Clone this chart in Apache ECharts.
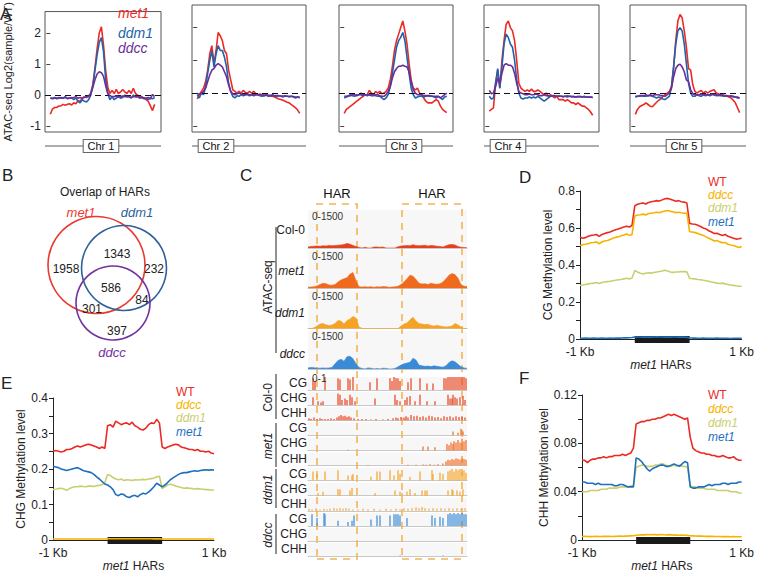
<!DOCTYPE html>
<html><head><meta charset="utf-8">
<script src="https://cdn.jsdelivr.net/npm/echarts@6/dist/echarts.min.js"></script>
<style>html,body{margin:0;padding:0;background:#fff}#c{width:757px;height:573px}</style>
</head><body><div id="c"></div>
<script>
// ---------------- DATA ----------------
// Panel A: ATAC-seq log2(sample/WT) profiles around HARs, per chromosome
const atacSamples = ['met1', 'ddm1', 'ddcc'];
const chrNames = ['Chr 1', 'Chr 2', 'Chr 3', 'Chr 4', 'Chr 5'];
const atacTicks = [-1, 0, 1, 2];
const a1_met1 = [-0.62,-0.45,-0.40,-0.40,-0.35,-0.35,-0.30,-0.33,-0.30,-0.28,-0.32,-0.25,-0.28,-0.18,-0.20,-0.10,-0.05,-0.08,-0.02,0.05,0.35,0.90,1.50,2.00,2.20,1.60,0.80,0.25,0.05,0.15,0.05,0.18,0.05,0.10,0.18,0.10,0.05,0.15,0.05,0.22,0.05,0.00,-0.05,-0.05,-0.10,-0.15,-0.20,-0.35,-0.50,-0.30];
const a1_ddm1 = [-0.10,-0.10,-0.08,-0.12,-0.10,-0.08,-0.10,-0.05,-0.12,-0.10,-0.08,-0.15,-0.10,-0.20,-0.25,-0.15,-0.20,-0.22,-0.15,0.00,0.30,0.80,1.30,1.70,1.85,1.40,0.50,0.05,-0.15,-0.05,-0.15,-0.10,-0.05,-0.10,-0.08,0.00,-0.05,-0.05,-0.10,0.00,-0.05,-0.05,-0.10,-0.08,-0.12,-0.10,-0.15,-0.10,-0.12,-0.08];
const a1_ddcc = [-0.10,-0.12,-0.10,-0.10,-0.08,-0.10,-0.10,-0.08,-0.10,-0.10,-0.10,-0.08,-0.05,-0.10,-0.08,-0.10,-0.08,-0.05,-0.05,0.05,0.25,0.50,0.68,0.75,0.72,0.60,0.30,0.05,-0.02,-0.05,-0.05,-0.03,-0.05,-0.05,-0.03,-0.05,-0.05,-0.05,-0.08,-0.05,-0.05,-0.05,-0.08,-0.08,-0.10,-0.10,-0.08,-0.12,0.02,-0.05];
const a2_met1 = [-0.18,-0.05,0.05,0.15,0.35,0.70,1.20,1.45,0.90,1.30,1.85,1.75,1.60,1.30,1.20,0.70,0.40,0.10,0.05,0.00,0.05,0.00,0.08,0.02,0.00,0.05,0.00,0.05,-0.02,-0.05,-0.03,-0.05,-0.08,-0.05,-0.08,-0.10,-0.10,-0.12,-0.15,-0.18,-0.20,-0.22,-0.25,-0.28,-0.30,-0.35,-0.40,-0.45,-0.52,-0.62];
const a2_ddm1 = [-0.05,-0.15,0.00,-0.05,0.20,0.60,1.00,1.30,0.80,1.20,1.45,1.30,1.30,1.10,0.80,0.30,0.05,-0.10,-0.15,-0.08,-0.10,-0.05,-0.08,-0.05,-0.05,-0.08,-0.05,-0.08,-0.05,-0.05,-0.08,-0.10,-0.08,-0.05,-0.10,-0.08,-0.05,-0.10,-0.10,-0.08,-0.10,-0.12,-0.08,-0.10,-0.12,-0.10,-0.12,-0.15,-0.12,-0.15];
const a2_ddcc = [0.00,-0.05,0.00,0.05,0.15,0.35,0.55,0.70,0.75,0.85,0.90,0.85,0.80,0.65,0.50,0.25,0.05,-0.02,-0.05,-0.02,0.00,-0.03,-0.05,-0.05,-0.03,-0.05,-0.05,-0.05,-0.05,-0.05,-0.06,-0.06,-0.06,-0.07,-0.07,-0.07,-0.08,-0.08,-0.08,-0.08,-0.09,-0.09,-0.10,-0.10,-0.10,-0.10,-0.11,-0.12,-0.12,-0.12];
const a3_met1 = [-0.62,-0.50,-0.45,-0.40,-0.35,-0.30,-0.25,-0.20,-0.15,-0.10,-0.05,-0.05,0.08,0.00,-0.05,0.05,0.00,0.05,-0.02,0.00,0.05,0.15,0.40,0.80,1.30,1.60,1.80,2.00,2.20,1.90,1.50,0.90,0.40,0.15,0.10,0.15,0.00,-0.05,-0.15,-0.25,-0.30,-0.30,-0.30,-0.25,-0.20,-0.25,-0.40,-0.50,-0.55,-0.60];
const a3_ddm1 = [-0.15,-0.12,-0.10,-0.05,-0.08,-0.10,-0.05,-0.05,0.00,-0.05,-0.05,-0.08,-0.05,-0.05,-0.05,-0.08,-0.10,-0.10,-0.15,-0.20,-0.15,-0.05,0.20,0.60,1.00,1.40,1.60,1.70,1.85,1.60,1.10,0.60,0.15,-0.05,-0.15,-0.12,-0.10,-0.10,-0.12,-0.10,-0.08,-0.10,-0.10,-0.12,-0.15,-0.10,-0.15,-0.20,-0.12,-0.10];
const a3_ddcc = [-0.10,-0.10,-0.08,-0.08,-0.05,-0.05,-0.08,-0.05,-0.05,-0.08,-0.05,-0.05,-0.05,-0.08,-0.08,-0.05,-0.05,-0.08,-0.10,-0.10,-0.05,0.05,0.20,0.45,0.65,0.75,0.82,0.82,0.85,0.82,0.80,0.65,0.35,0.10,0.00,-0.05,-0.05,-0.05,-0.08,-0.08,-0.08,-0.08,-0.10,-0.10,-0.10,-0.10,-0.15,-0.10,-0.05,0.00];
const a4_met1 = [-0.55,-0.50,-0.45,0.30,0.70,0.15,1.00,1.60,2.10,2.20,2.00,1.90,1.60,1.00,0.30,0.15,0.10,0.05,0.10,0.05,0.12,0.05,0.05,0.10,0.05,0.00,-0.05,0.00,-0.10,-0.05,-0.10,-0.15,-0.10,-0.20,-0.20,-0.20,-0.25,-0.20,-0.25,-0.30,-0.30,-0.35,-0.30,-0.35,-0.40,-0.40,-0.45,-0.50,-0.58,-0.68];
const a4_ddm1 = [-0.10,-0.18,-0.15,0.30,0.75,0.15,0.80,1.50,1.80,1.70,1.50,1.40,1.00,0.40,0.00,-0.15,-0.18,-0.15,-0.15,-0.12,-0.15,-0.12,-0.15,-0.10,-0.15,-0.20,-0.25,-0.20,-0.15,-0.10,-0.10,-0.08,-0.10,-0.08,-0.10,-0.12,-0.10,-0.08,-0.10,-0.12,-0.10,-0.12,-0.10,-0.12,-0.12,-0.10,-0.12,-0.12,-0.12,-0.13];
const a4_ddcc = [0.08,-0.02,0.00,0.20,0.45,0.30,0.60,0.85,0.90,0.85,0.85,0.80,0.60,0.30,0.05,0.00,-0.02,-0.05,-0.05,-0.03,-0.05,-0.05,-0.03,-0.05,-0.08,-0.08,-0.05,-0.08,-0.08,-0.10,-0.08,-0.08,-0.10,-0.10,-0.10,-0.10,-0.10,-0.12,-0.10,-0.10,-0.12,-0.12,-0.12,-0.10,-0.12,-0.12,-0.12,-0.13,-0.12,-0.14];
const a5_met1 = [-0.65,-0.50,-0.42,-0.38,-0.35,-0.30,-0.35,-0.40,-0.42,-0.35,-0.28,-0.22,-0.18,-0.10,-0.05,0.00,0.05,0.20,0.80,1.60,2.20,2.40,2.30,1.90,1.40,0.75,0.70,0.25,0.05,0.00,0.05,0.08,0.00,0.05,0.00,0.05,0.08,0.10,0.00,-0.02,-0.05,-0.05,-0.08,-0.10,-0.12,-0.15,-0.22,-0.30,-0.45,-0.60];
const a5_ddm1 = [-0.13,-0.10,-0.10,-0.08,-0.10,-0.10,-0.08,-0.05,-0.10,-0.12,-0.15,-0.12,-0.15,-0.18,-0.20,-0.15,-0.10,0.20,0.80,1.50,1.90,2.00,1.90,1.50,0.90,0.30,0.00,-0.10,-0.10,-0.05,-0.08,-0.10,-0.05,-0.08,-0.05,-0.08,-0.05,-0.05,-0.08,-0.05,-0.08,-0.08,-0.10,-0.08,-0.10,-0.10,-0.12,-0.12,-0.15,-0.15];
const a5_ddcc = [-0.10,-0.10,-0.08,-0.08,-0.08,-0.05,-0.08,-0.08,-0.08,-0.05,-0.05,-0.05,-0.08,-0.08,-0.10,-0.05,0.00,0.15,0.50,0.75,0.85,0.88,0.80,0.65,0.40,0.35,0.10,-0.02,-0.05,-0.05,-0.05,-0.03,-0.05,-0.05,-0.05,-0.05,-0.03,-0.05,-0.05,-0.08,-0.05,-0.08,-0.08,-0.08,-0.10,-0.08,-0.10,-0.12,-0.12,-0.15];

// Panel B: Venn of HARs
const vennSets = ['met1', 'ddm1', 'ddcc'];
const vennRegions = ['met1 only', 'met1&ddm1', 'ddm1 only', 'all three', 'ddm1&ddcc', 'met1&ddcc', 'ddcc only'];
const vennCounts = [1958, 1343, 232, 586, 84, 301, 397];

// Panel C: genome browser tracks
const atacTrackNames = ['Col-0', 'met1', 'ddm1', 'ddcc'];
const atacRange = '0-1500';
const c_atac_col0 = [40,60,70,80,70,90,80,100,90,100,110,120,140,180,150,100,60,20,0,30,0,0,40,40,30,40,0,0,0,0,50,80,90,100,90,130,100,90,100,110,80,100,90,70,60,40,90,130,140,120,60,30,20,10];
const c_atac_met1 = [40,50,60,90,150,200,180,130,120,150,250,330,380,420,560,620,300,60,50,60,50,60,40,60,50,70,60,40,50,60,80,150,250,380,520,480,350,200,170,180,150,200,170,160,180,250,380,520,580,540,400,150,80,70];
const c_atac_ddm1 = [0,0,30,100,180,200,150,120,140,200,320,300,180,320,380,480,420,60,10,0,0,0,0,0,10,0,0,0,0,0,0,100,180,220,350,450,300,200,180,160,170,120,100,130,100,80,60,80,100,200,150,60,0,0];
const c_atac_ddcc = [40,60,50,30,30,40,30,40,60,200,330,380,300,480,500,400,200,60,20,0,40,30,0,20,0,30,20,0,0,20,80,150,200,230,260,420,350,150,120,100,110,90,120,100,80,70,120,250,320,280,180,80,40,20];
const harBounds = [[9, 49], [94, 154]];
const methylGroups = ['Col-0', 'met1', 'ddm1', 'ddcc'];
const methylContexts = ['CG', 'CHG', 'CHH'];
const methylRange = '0-1';
const m_col0_cg = [[5,0.9],[7,0.7],[17,1],[30,0.9],[32,0.8],[40,0.9],[42,0.8],[45,1],[62,0.6],[69,0.9],[82,0.9],[84,0.7],[86,1],[88,0.9],[90,0.9],[92,0.7],[100,0.6],[103,0.9],[112,0.9],[119,0.5],[125,0.5],[136,0.9],[138,0.9],[140,1],[142,1],[144,1],[146,1],[148,1],[150,1],[152,1],[154,1],[156,1],[158,0.9]];
const m_col0_chg = [[5,0.6],[10,0.3],[13,0.2],[15,0.3],[30,0.9],[32,0.8],[34,0.4],[37,0.5],[39,0.4],[42,0.8],[44,0.6],[47,0.3],[67,0.5],[87,0.8],[89,0.4],[92,0.3],[97,0.4],[99,0.6],[102,0.7],[107,0.3],[112,0.8],[119,0.3],[127,0.3],[140,0.8],[142,0.5],[144,0.5],[145,0.8],[147,0.6],[149,0.5],[152,0.6],[155,0.7],[157,0.4]];
const m_col0_chh = [[1,0.15],[3,0.1],[6,0.2],[9,0.1],[12,0.15],[14,0.1],[17,0.1],[20,0.1],[23,0.15],[26,0.1],[29,0.2],[31,0.3],[33,0.4],[35,0.3],[37,0.35],[39,0.25],[41,0.3],[43,0.2],[46,0.15],[50,0.1],[54,0.1],[58,0.1],[63,0.05],[68,0.1],[75,0.05],[80,0.1],[85,0.15],[88,0.2],[90,0.15],[93,0.25],[96,0.2],[98,0.3],[100,0.2],[103,0.4],[106,0.3],[109,0.35],[112,0.25],[115,0.3],[118,0.2],[121,0.35],[124,0.3],[127,0.2],[130,0.25],[133,0.15],[136,0.3],[139,0.25],[142,0.3],[145,0.2],[148,0.3],[151,0.25],[154,0.3],[157,0.2]];
const m_met1_cg = [[145,0.3],[150,0.2],[153,0.5],[155,0.3]];
const m_met1_chg = [[40,0.05],[115,0.3],[120,0.3],[127,0.25],[139,0.5],[141,0.4],[143,0.6],[145,0.5],[146,0.7],[148,0.6],[150,0.8],[152,0.6],[154,0.9],[156,0.7],[158,0.8]];
const m_met1_chh = [[60,0.03],[100,0.05],[108,0.05],[115,0.08],[118,0.05],[122,0.1],[126,0.06],[130,0.1],[135,0.15],[138,0.3],[140,0.45],[142,0.4],[144,0.5],[146,0.45],[148,0.55],[150,0.5],[152,0.45],[154,0.55],[156,0.5],[158,0.45]];
const m_ddm1_cg = [[5,0.7],[9,0.5],[17,0.7],[30,0.8],[40,0.4],[44,0.4],[45,0.5],[63,0.3],[69,0.7],[72,0.7],[82,0.8],[86,0.4],[90,0.8],[92,0.5],[102,0.3],[112,0.7],[124,0.8],[125,0.5],[132,0.6],[135,0.5],[140,0.7],[142,0.8],[144,0.9],[146,0.7],[148,0.9],[150,0.8],[152,0.9],[154,0.7],[156,0.8],[158,0.6]];
const m_ddm1_chg = [[10,0.2],[15,0.3],[30,0.5],[32,0.5],[42,0.4],[44,0.6],[67,0.2],[87,0.4],[92,0.3],[94,0.2],[99,0.3],[102,0.5],[107,0.2],[114,0.4],[117,0.4],[119,0.4],[140,0.4],[144,0.5],[145,0.4],[149,0.4],[152,0.3],[155,0.5]];
const m_ddm1_chh = [[1,0.15],[4,0.1],[8,0.2],[12,0.1],[16,0.15],[19,0.1],[22,0.15],[26,0.2],[29,0.15],[32,0.2],[35,0.15],[38,0.2],[41,0.15],[45,0.1],[50,0.1],[55,0.15],[60,0.1],[66,0.15],[72,0.1],[78,0.15],[83,0.1],[88,0.15],[92,0.1],[96,0.2],[100,0.15],[104,0.2],[108,0.25],[111,0.2],[114,0.3],[117,0.2],[121,0.15],[125,0.2],[129,0.15],[133,0.2],[137,0.15],[141,0.2],[145,0.15],[149,0.2],[153,0.15],[157,0.2]];
const m_ddcc_cg = [[4,0.9],[9,0.6],[16,1],[17,0.9],[30,0.4],[40,0.3],[44,0.4],[46,0.8],[63,0.5],[69,0.8],[72,0.8],[82,0.8],[86,0.9],[88,0.9],[90,0.9],[92,0.8],[99,0.6],[124,0.8],[127,0.6],[132,0.7],[135,0.6],[140,0.9],[142,1],[144,0.9],[146,1],[148,0.9],[150,1],[152,0.9],[154,1],[156,0.9],[158,0.9]];
const m_ddcc_chg = [];
const m_ddcc_chh = [[92,0.05],[135,0.05]];

// Panels D-F: methylation profiles across met1 HARs (60 bins: 20 up, 20 HAR, 20 down)
const profileSamples = ['WT', 'ddcc', 'ddm1', 'met1'];
const profileEnds = ['-1 Kb', '1 Kb'];
const harBinRange = [20, 40];
const d_wt = [0.550,0.545,0.548,0.555,0.560,0.562,0.565,0.555,0.565,0.570,0.575,0.578,0.585,0.590,0.595,0.600,0.605,0.610,0.605,0.615,0.720,0.728,0.732,0.735,0.730,0.738,0.742,0.745,0.748,0.746,0.752,0.758,0.760,0.755,0.750,0.745,0.748,0.742,0.740,0.735,0.625,0.622,0.620,0.615,0.608,0.600,0.595,0.585,0.578,0.570,0.572,0.565,0.560,0.565,0.555,0.550,0.545,0.540,0.542,0.545];
const d_ddcc = [0.505,0.510,0.512,0.515,0.520,0.522,0.525,0.515,0.525,0.530,0.532,0.538,0.545,0.550,0.552,0.558,0.562,0.568,0.560,0.565,0.665,0.670,0.672,0.675,0.670,0.678,0.680,0.682,0.685,0.683,0.688,0.692,0.695,0.690,0.688,0.683,0.685,0.682,0.680,0.680,0.580,0.578,0.575,0.570,0.565,0.560,0.552,0.545,0.538,0.530,0.532,0.525,0.520,0.522,0.512,0.508,0.505,0.500,0.495,0.500];
const d_ddm1 = [0.290,0.292,0.295,0.298,0.300,0.302,0.305,0.300,0.305,0.308,0.310,0.312,0.315,0.318,0.320,0.322,0.325,0.328,0.325,0.330,0.370,0.362,0.355,0.352,0.355,0.358,0.356,0.360,0.362,0.365,0.368,0.372,0.368,0.362,0.360,0.362,0.363,0.365,0.364,0.363,0.328,0.326,0.325,0.322,0.320,0.318,0.315,0.312,0.308,0.305,0.302,0.300,0.302,0.298,0.295,0.292,0.290,0.288,0.285,0.285];
const d_met1 = [0.004,0.004,0.005,0.004,0.004,0.005,0.004,0.004,0.005,0.004,0.004,0.005,0.004,0.005,0.005,0.005,0.006,0.006,0.007,0.008,0.010,0.011,0.011,0.010,0.011,0.010,0.010,0.011,0.012,0.011,0.011,0.010,0.011,0.010,0.011,0.011,0.010,0.011,0.010,0.009,0.006,0.005,0.005,0.004,0.004,0.005,0.004,0.004,0.004,0.004,0.005,0.004,0.004,0.004,0.004,0.003,0.004,0.004,0.004,0.004];
const e_wt = [0.250,0.252,0.250,0.248,0.250,0.255,0.255,0.258,0.262,0.265,0.262,0.265,0.268,0.270,0.268,0.265,0.262,0.258,0.262,0.258,0.322,0.325,0.318,0.335,0.330,0.325,0.328,0.330,0.325,0.332,0.322,0.318,0.312,0.310,0.315,0.325,0.330,0.328,0.340,0.330,0.262,0.258,0.262,0.265,0.268,0.270,0.268,0.262,0.260,0.258,0.255,0.255,0.252,0.255,0.250,0.250,0.248,0.250,0.245,0.243];
const e_ddcc = [0.0030,0.0030,0.0031,0.0030,0.0030,0.0031,0.0030,0.0031,0.0030,0.0030,0.0031,0.0030,0.0031,0.0031,0.0032,0.0031,0.0032,0.0032,0.0033,0.0033,0.0036,0.0037,0.0036,0.0038,0.0037,0.0036,0.0037,0.0038,0.0037,0.0036,0.0037,0.0038,0.0036,0.0037,0.0036,0.0037,0.0036,0.0035,0.0036,0.0035,0.0032,0.0032,0.0031,0.0031,0.0030,0.0031,0.0030,0.0030,0.0031,0.0030,0.0030,0.0029,0.0030,0.0030,0.0029,0.0030,0.0029,0.0029,0.0030,0.0029];
const e_ddm1 = [0.142,0.143,0.145,0.146,0.144,0.140,0.145,0.148,0.150,0.150,0.152,0.151,0.150,0.152,0.152,0.151,0.153,0.154,0.156,0.162,0.185,0.182,0.176,0.172,0.170,0.172,0.168,0.170,0.169,0.168,0.170,0.169,0.170,0.171,0.170,0.172,0.173,0.175,0.178,0.180,0.145,0.150,0.155,0.157,0.155,0.152,0.150,0.148,0.146,0.147,0.146,0.145,0.144,0.145,0.144,0.143,0.142,0.142,0.141,0.141];
const e_met1 = [0.208,0.206,0.204,0.200,0.198,0.196,0.198,0.200,0.202,0.204,0.200,0.196,0.194,0.192,0.190,0.185,0.178,0.172,0.165,0.158,0.155,0.150,0.142,0.128,0.125,0.130,0.128,0.122,0.120,0.124,0.126,0.122,0.128,0.132,0.130,0.135,0.142,0.150,0.160,0.155,0.150,0.155,0.162,0.170,0.175,0.180,0.185,0.188,0.190,0.190,0.192,0.194,0.195,0.194,0.196,0.197,0.198,0.197,0.198,0.197];
const f_wt = [0.066,0.066,0.064,0.066,0.067,0.067,0.068,0.068,0.069,0.068,0.069,0.069,0.070,0.070,0.070,0.071,0.070,0.071,0.072,0.076,0.096,0.097,0.098,0.098,0.099,0.099,0.100,0.100,0.101,0.101,0.102,0.103,0.104,0.103,0.104,0.103,0.102,0.101,0.100,0.101,0.085,0.076,0.074,0.073,0.072,0.072,0.071,0.071,0.070,0.070,0.069,0.069,0.070,0.069,0.068,0.068,0.069,0.067,0.066,0.066];
const f_ddcc = [0.0030,0.0031,0.0030,0.0029,0.0030,0.0031,0.0030,0.0030,0.0031,0.0032,0.0031,0.0030,0.0031,0.0032,0.0033,0.0032,0.0033,0.0034,0.0035,0.0036,0.0040,0.0042,0.0044,0.0043,0.0045,0.0044,0.0046,0.0045,0.0043,0.0046,0.0044,0.0042,0.0045,0.0043,0.0041,0.0042,0.0040,0.0041,0.0040,0.0039,0.0036,0.0035,0.0034,0.0033,0.0033,0.0032,0.0031,0.0032,0.0031,0.0030,0.0030,0.0030,0.0029,0.0030,0.0029,0.0028,0.0029,0.0028,0.0028,0.0028];
const f_ddm1 = [0.040,0.040,0.040,0.041,0.041,0.041,0.041,0.042,0.042,0.042,0.043,0.043,0.043,0.043,0.044,0.044,0.044,0.044,0.045,0.045,0.060,0.061,0.062,0.062,0.061,0.061,0.061,0.062,0.062,0.063,0.063,0.062,0.061,0.061,0.062,0.061,0.062,0.061,0.061,0.060,0.045,0.044,0.044,0.043,0.043,0.043,0.042,0.042,0.042,0.042,0.041,0.041,0.041,0.041,0.041,0.040,0.040,0.040,0.039,0.039];
const f_met1 = [0.048,0.048,0.047,0.047,0.047,0.046,0.047,0.046,0.046,0.046,0.046,0.046,0.045,0.045,0.046,0.046,0.045,0.044,0.044,0.044,0.068,0.067,0.065,0.062,0.059,0.057,0.059,0.060,0.061,0.062,0.062,0.061,0.061,0.062,0.063,0.062,0.061,0.063,0.065,0.064,0.044,0.043,0.043,0.044,0.044,0.044,0.045,0.046,0.045,0.046,0.046,0.046,0.047,0.047,0.046,0.047,0.047,0.047,0.048,0.048];
const dTickLabels = [0, 0.2, 0.4, 0.6, 0.8];
const eTickLabels = [0, 0.1, 0.2, 0.3, 0.4];
const fTickLabels = [0, 0.04, 0.08, 0.12];

// ---------------- LAYOUT / STYLE ----------------
const FONT = 'Liberation Sans, Arial, Helvetica, sans-serif';
const grid = [], xAxis = [], yAxis = [], series = [], graphic = [];
function addGrid(g, xa, ya) {
  grid.push(g); const i = grid.length - 1;
  xa.gridIndex = i; ya.gridIndex = i; xAxis.push(xa); yAxis.push(ya); return i;
}
function txt(text, x, y, o) {
  o = o || {};
  graphic.push({type: 'text', x: x, y: y, rotation: o.rot || 0, z: 100, silent: true,
    style: {text: text, fill: o.color || '#222', fontSize: o.size || 12, fontFamily: FONT,
      fontStyle: o.italic ? 'italic' : 'normal', fontWeight: o.bold ? 'bold' : 'normal',
      align: o.align || 'left', verticalAlign: o.va || 'middle'}});
}
function vline(x, y1, y2, color, w) {
  graphic.push({type: 'line', silent: true, z: 100, shape: {x1: x, y1: y1, x2: x, y2: y2}, style: {stroke: color || '#222', lineWidth: w || 1}});
}

// ---- Panel A ----
const aColors = ['#ec2a24', '#2062ad', '#6b2f9a'];
const aData = [[a1_met1, a1_ddm1, a1_ddcc], [a2_met1, a2_ddm1, a2_ddcc], [a3_met1, a3_ddm1, a3_ddcc], [a4_met1, a4_ddm1, a4_ddcc], [a5_met1, a5_ddm1, a5_ddcc]];
const aLeft = [45, 192, 339, 484, 630], aWidth = [116, 114, 114, 115, 116];
const chrCenters = [101, 216, 404, 508, 684];
aData.forEach((panel, k) => {
  const gi = addGrid({left: aLeft[k], top: 5, width: aWidth[k], height: 127, show: true, borderColor: '#555', borderWidth: 1},
    {type: 'value', min: -2.5, max: 52, show: false},
    {type: 'value', min: -1.19, max: 2.69, axisLine: {show: false}, splitLine: {show: false},
     axisTick: {show: true, length: 4, customValues: atacTicks, lineStyle: {color: '#444'}},
     axisLabel: {show: k === 0, customValues: atacTicks, fontSize: 12, color: '#222', margin: 4, fontFamily: FONT},
     name: k === 0 ? 'ATAC-seq Log2(sample/WT)' : '', nameLocation: 'middle', nameGap: 32, nameRotate: 90,
     nameTextStyle: {fontSize: 11, color: '#222', fontFamily: FONT}});
  panel.forEach((arr, j) => {
    const s = {type: 'line', name: atacSamples[j], xAxisIndex: gi, yAxisIndex: gi, data: arr.map((v, i) => [i, v]),
      symbol: 'none', lineStyle: {color: aColors[j], width: 1.6}, itemStyle: {color: aColors[j]}, z: 3 + j, silent: true};
    if (j === 0) s.markLine = {silent: true, symbol: ['none', 'none'], label: {show: false},
      lineStyle: {color: '#111', width: 1, type: [6, 4]}, data: [{yAxis: 0}]};
    series.push(s);
  });
  graphic.push({type: 'line', silent: true, shape: {x1: aLeft[k], y1: 146, x2: aLeft[k] + aWidth[k], y2: 146}, style: {stroke: '#333', lineWidth: 0.8}});
  graphic.push({type: 'text', x: chrCenters[k], y: 146, silent: true, z: 100,
    style: {text: chrNames[k], fontSize: 11, fontFamily: FONT, fill: '#111', align: 'center', verticalAlign: 'middle',
      backgroundColor: '#fff', borderColor: '#333', borderWidth: 0.8, padding: [1, 4, 0, 4]}});
});
txt('met1', 118, 12.5, {color: aColors[0], italic: true, size: 14});
txt('ddm1', 118, 33, {color: aColors[1], italic: true, size: 14});
txt('ddcc', 118, 48, {color: aColors[2], italic: true, size: 14});

// ---- Panel B (Venn) ----
const vennColors = ['#ea3a30', '#2f5f9c', '#7232a0'];
const vennCircles = [[96.5, 265, 48.5], [124, 268, 42.5], [113, 303, 37]];
vennCircles.forEach((c, i) => graphic.push({type: 'circle', silent: true, z: 50, shape: {cx: c[0], cy: c[1], r: c[2]},
  style: {fill: 'none', stroke: vennColors[i], lineWidth: 1.6}}));
const vennLabelPos = [[66, 269], [117, 254], [154, 269], [111, 288], [142, 300], [92, 309], [117, 331]];
vennCounts.forEach((v, i) => txt(String(v), vennLabelPos[i][0], vennLabelPos[i][1], {align: 'center', size: 12}));
txt('Overlap of HARs', 105, 192, {align: 'center', size: 12});
txt(vennSets[0], 81, 212, {align: 'center', italic: true, color: vennColors[0], size: 13});
txt(vennSets[1], 137, 212, {align: 'center', italic: true, color: vennColors[1], size: 13});
txt(vennSets[2], 112, 352, {align: 'center', italic: true, color: vennColors[2], size: 13});

// ---- Panel C (tracks) ----
const trackColors = ['#e8401c', '#f06a1e', '#f6a325', '#3a8ad6'];
const atacData = [c_atac_col0, c_atac_met1, c_atac_ddm1, c_atac_ddcc];
const TX = 308, TW = 159;
atacData.forEach((arr, k) => {
  const top = 210 + 40.3 * k;
  const gi = addGrid({left: TX, top: top, width: TW, height: 38, show: true, backgroundColor: '#f7f7f7', borderWidth: 0},
    {type: 'value', min: 0, max: arr.length - 1, axisLine: {show: true, lineStyle: {color: '#c8c8c8', width: 1}}, axisTick: {show: false}, axisLabel: {show: false}, splitLine: {show: false}},
    {type: 'value', min: 0, max: 1500, show: false});
  series.push({type: 'line', name: 'ATAC ' + atacTrackNames[k], xAxisIndex: gi, yAxisIndex: gi, data: arr.map((v, i) => [i, v]),
    symbol: 'none', lineStyle: {color: trackColors[k], width: 0.6}, areaStyle: {color: trackColors[k], opacity: 1}, silent: true});
  txt(atacRange, 312, top + 6, {size: 10, color: '#333'});
  txt(atacTrackNames[k], 305, [230, 271, 313, 354][k], {align: 'right', italic: k > 0, size: 12});
});
vline(276, 227, 353);
txt('ATAC-seq', 268, 287, {rot: Math.PI / 2, align: 'center', size: 12});

const methylData = [[m_col0_cg, m_col0_chg, m_col0_chh], [m_met1_cg, m_met1_chg, m_met1_chh], [m_ddm1_cg, m_ddm1_chg, m_ddm1_chh], [m_ddcc_cg, m_ddcc_chg, m_ddcc_chh]];
methylData.forEach((grp, g) => {
  grp.forEach((arr, c) => {
    const k = g * 3 + c;
    const base = 390 + 15.1 * k;
    const gi = addGrid({left: TX, top: base - 13, width: TW, height: 13, show: true, backgroundColor: '#f7f7f7', borderWidth: 0},
      {type: 'value', min: 0, max: TW, axisLine: {show: true, lineStyle: {color: '#c8c8c8', width: 1}}, axisTick: {show: false}, axisLabel: {show: false}, splitLine: {show: false}},
      {type: 'value', min: 0, max: 1, show: false});
    series.push({type: 'bar', name: methylGroups[g] + ' ' + methylContexts[c], xAxisIndex: gi, yAxisIndex: gi, data: arr,
      barWidth: 1.2, itemStyle: {color: trackColors[g]}, silent: true});
    txt(methylContexts[c], 307, base - 7, {align: 'right', size: 12});
  });
});
txt(methylRange, 312, 378, {size: 10, color: '#333'});
const grpBr = [[374, 419], [423, 467], [469, 508], [514, 554]];
grpBr.forEach((b, g) => {
  vline(276, b[0], b[1]);
  txt(methylGroups[g], 268, (b[0] + b[1]) / 2 + 1, {rot: Math.PI / 2, align: 'center', italic: g > 0, size: 12});
});
// overlay with HAR dashed boxes
{
  const gi = addGrid({left: TX, top: 204, width: TW, height: 355},
    {type: 'value', min: 0, max: TW, show: false}, {type: 'value', min: 0, max: 1, show: false});
  series.push({type: 'line', name: 'HAR', xAxisIndex: gi, yAxisIndex: gi, data: [[0, 0.5]], symbol: 'none', lineStyle: {width: 0}, z: 20, silent: true,
    markArea: {silent: true, itemStyle: {color: 'rgba(0,0,0,0)', borderColor: '#f4b356', borderWidth: 1.6, borderType: [7, 6]},
      label: {show: true, position: 'top', distance: 3, color: '#111', fontSize: 13, fontFamily: FONT},
      data: harBounds.map(b => [{name: 'HAR', xAxis: b[0]}, {xAxis: b[1]}])}});
}

// ---- Panels D, E, F ----
const pColors = ['#ec2a24', '#f5b300', '#c9cf70', '#1f6fbf'];
function profile(cfg) {
  const n = cfg.data[0].length;
  const gi = addGrid({left: cfg.left, top: cfg.top, width: cfg.width, height: cfg.height},
    {type: 'value', min: 0, max: n - 1, splitLine: {show: false}, axisLine: {lineStyle: {color: '#222', width: 1}}, axisTick: {show: false},
     axisLabel: {customValues: [0, n - 1], formatter: v => (v === 0 ? profileEnds[0] : profileEnds[1]), fontSize: 12, color: '#222', margin: 7, fontFamily: FONT},
     name: '{i|met1} HARs', nameLocation: 'middle', nameGap: 14,
     nameTextStyle: {fontSize: 12, color: '#222', fontFamily: FONT, rich: {i: {fontStyle: 'italic', fontSize: 12, fontFamily: FONT, color: '#222'}}}},
    {type: 'value', min: 0, max: cfg.max, splitLine: {show: false}, axisLine: {show: true, lineStyle: {color: '#222', width: 1}},
     axisTick: {show: true, length: 4, customValues: cfg.ticks, lineStyle: {color: '#222'}},
     axisLabel: {customValues: cfg.labels, fontSize: 12, color: '#222', margin: 5, fontFamily: FONT},
     name: cfg.yname, nameLocation: 'middle', nameGap: cfg.nameGap, nameRotate: 90, nameTextStyle: {fontSize: 12, color: '#222', fontFamily: FONT}});
  series.push({type: 'line', name: 'met1 HARs', xAxisIndex: gi, yAxisIndex: gi, data: [[0, 0]], symbol: 'none', lineStyle: {width: 0}, z: 1, silent: true,
    markLine: {silent: true, symbol: ['none', 'none'], label: {show: false}, lineStyle: {color: '#1a1a1a', width: 7, type: 'solid'},
      data: [[{coord: [harBinRange[0], 0]}, {coord: [harBinRange[1], 0]}]]}});
  cfg.data.forEach((arr, j) => series.push({type: 'line', name: profileSamples[j], xAxisIndex: gi, yAxisIndex: gi,
    data: arr.map((v, i) => [i, v]), symbol: 'none', lineStyle: {color: pColors[j], width: 1.6}, itemStyle: {color: pColors[j]}, z: 5, silent: true}));
  profileSamples.forEach((nm, j) => txt(nm, cfg.lx, cfg.ly[j], {color: pColors[j], italic: j > 0, size: 12}));
}
const range = (a, b, s) => { const r = []; for (let v = a; v <= b + 1e-9; v += s) r.push(+v.toFixed(4)); return r; };
profile({left: 580, top: 191, width: 165, height: 148, max: 0.8, ticks: range(0, 0.8, 0.1), labels: dTickLabels,
  yname: 'CG Methylation level', nameGap: 26, data: [d_wt, d_ddcc, d_ddm1, d_met1], lx: 708, ly: [182, 195, 208, 222]});
profile({left: 53, top: 398, width: 161, height: 154, max: 0.4, ticks: range(0, 0.4, 0.05), labels: eTickLabels,
  yname: 'CHG Methylation level', nameGap: 26, data: [e_wt, e_ddcc, e_ddm1, e_met1], lx: 176, ly: [392, 405, 418, 432]});
profile({left: 582, top: 395, width: 163, height: 154, max: 0.12, ticks: range(0, 0.12, 0.02), labels: fTickLabels,
  yname: 'CHH Methylation level', nameGap: 28, data: [f_wt, f_ddcc, f_ddm1, f_met1], lx: 708, ly: [395, 409, 423, 437]});

// panel letters
txt('A', 0, 14, {size: 17});
txt('B', 2, 175, {size: 17});
txt('C', 240, 175, {size: 17});
txt('D', 519, 177, {size: 17});
txt('E', 1, 383, {size: 17});
txt('F', 519, 378, {size: 17});

const chart = echarts.init(document.getElementById('c'), null, {renderer: 'svg'});
chart.setOption({animation: false, backgroundColor: '#fff', textStyle: {fontFamily: FONT},
  grid: grid, xAxis: xAxis, yAxis: yAxis, series: series, graphic: {elements: graphic}});
</script></body></html>
